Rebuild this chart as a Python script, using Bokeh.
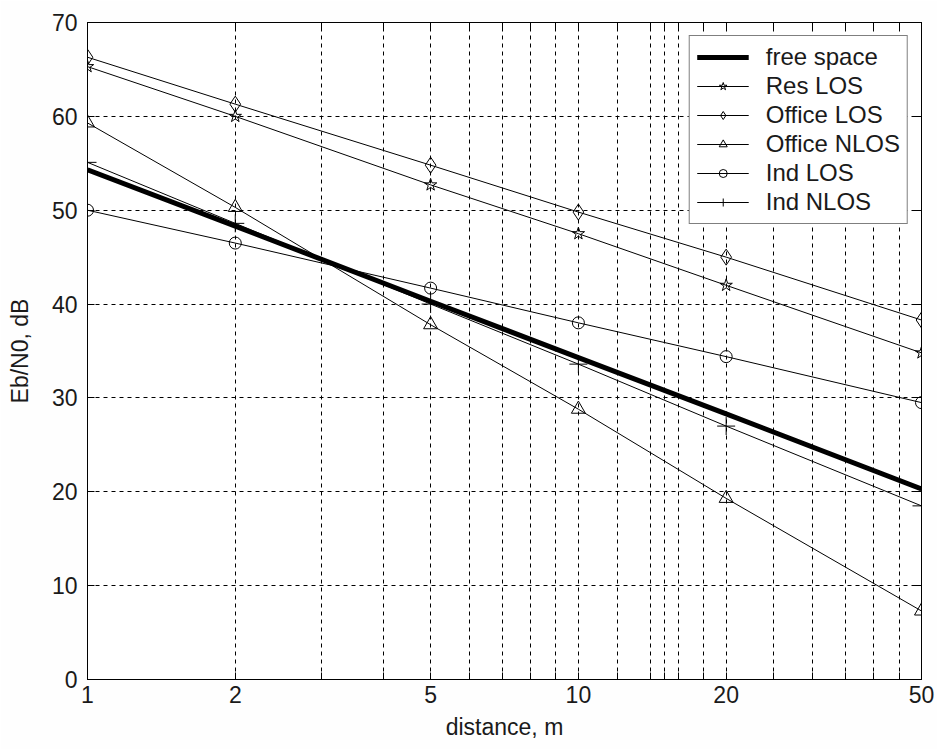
from bokeh.plotting import figure
from bokeh.models import (FixedTicker, LinearAxis, LogAxis, CustomJSTickFormatter,
                          Legend, LegendItem, Range1d)
from bokeh.embed import file_html
from bokeh.resources import INLINE

distance = [1, 2, 5, 10, 20, 50]
free_space = [54.3, 48.3, 40.3, 34.3, 28.3, 20.3]
res_los = [65.3, 60.0, 52.7, 47.5, 42.0, 34.8]
office_los = [66.3, 61.3, 54.8, 49.8, 45.0, 38.3]
office_nlos = [59.3, 50.3, 37.8, 28.8, 19.3, 7.3]
ind_los = [50.0, 46.5, 41.7, 38.0, 34.4, 29.5]
ind_nlos = [55.1, 48.6, 40.0, 33.6, 27.0, 18.5]

x_major = [1, 2, 5, 10, 20, 50]
x_minor = [3, 4, 6, 7, 8, 9, 12, 14, 15, 16, 18, 25, 30, 35, 40, 45]
y_ticks = [0, 10, 20, 30, 40, 50, 60, 70]

FONT = "Liberation Sans"
FS = "23px"
TXT = "#1a1a1a"

p = figure(width=937, height=749, x_axis_type="log", output_backend="svg",
           toolbar_location=None, x_range=Range1d(1, 50), y_range=Range1d(0, 70),
           min_border_left=87, min_border_right=16, min_border_top=22,
           min_border_bottom=70, background_fill_color="white",
           border_fill_color="#fefefe")
p.outline_line_color = "black"
p.outline_line_width = 1

xt = FixedTicker(ticks=x_major, minor_ticks=x_minor)
yt = FixedTicker(ticks=y_ticks)
p.xaxis.ticker = xt
p.yaxis.ticker = yt
p.xaxis.formatter = CustomJSTickFormatter(code="return String(Math.round(tick));")
p.xgrid.ticker = FixedTicker(ticks=x_major[1:-1] + x_minor)
p.ygrid.ticker = FixedTicker(ticks=y_ticks[1:-1])
for g in (p.xgrid, p.ygrid):
    g.grid_line_color = "black"
    g.grid_line_dash = "4 4"
    g.grid_line_width = 1
    g.grid_line_alpha = 1

for ax in (p.xaxis, p.yaxis):
    ax.major_tick_in = 7
    ax.major_tick_out = 0
    ax.minor_tick_in = 7
    ax.minor_tick_out = 0
    ax.axis_line_color = "black"
    ax.major_tick_line_color = "black"
    ax.minor_tick_line_color = "black"
    ax.major_label_text_font = FONT
    ax.major_label_text_font_size = FS
    ax.major_label_text_color = TXT
    ax.axis_label_text_font = FONT
    ax.axis_label_text_font_size = FS
    ax.axis_label_text_font_style = "normal"
    ax.axis_label_text_color = TXT
p.yaxis.minor_tick_line_color = None
p.xaxis.axis_label = "distance, m"
p.yaxis.axis_label = "Eb/N0, dB"
p.xaxis.major_label_standoff = 6
p.xaxis.axis_label_standoff = 8
p.yaxis.major_label_standoff = 10
p.yaxis.axis_label_standoff = 16

blank = CustomJSTickFormatter(code="return '';")
top = LogAxis(ticker=xt, formatter=blank, major_tick_in=7, major_tick_out=0,
              minor_tick_in=7, minor_tick_out=0, major_label_text_font_size="1px",
              major_label_standoff=0)
right = LinearAxis(ticker=yt, formatter=blank, major_tick_in=7, major_tick_out=0,
                   minor_tick_line_color=None, major_label_text_font_size="1px",
                   major_label_standoff=0)
p.add_layout(top, "above")
p.add_layout(right, "right")

items = []
l0 = p.line(distance, free_space, line_color="black", line_width=5)
items.append(LegendItem(label="free space", renderers=[l0]))

series = [
    ("Res LOS", res_los, "star", 13),
    ("Office LOS", office_los, "diamond", 16),
    ("Office NLOS", office_nlos, "triangle", 14),
    ("Ind LOS", ind_los, "circle", 12),
    ("Ind NLOS", ind_nlos, "cross", 18),
]
for name, ys, mk, sz in series:
    ln = p.line(distance, ys, line_color="black", line_width=1)
    sc = p.scatter(distance, ys, marker=mk, size=sz, line_color="black",
                   fill_color=None, line_width=1)
    items.append(LegendItem(label=name, renderers=[ln, sc]))

legend = Legend(items=items, location="top_right")
legend.label_text_font = FONT
legend.label_text_font_size = "24px"
legend.label_text_color = TXT
legend.border_line_color = "black"
legend.border_line_width = 1
legend.background_fill_color = "white"
legend.background_fill_alpha = 1
legend.glyph_width = 52
legend.glyph_height = 20
legend.label_height = 20
legend.spacing = 1
legend.padding = 7
legend.margin = 13
legend.label_standoff = 17
p.add_layout(legend, "center")

open("out.html", "w").write(file_html(p, INLINE))
